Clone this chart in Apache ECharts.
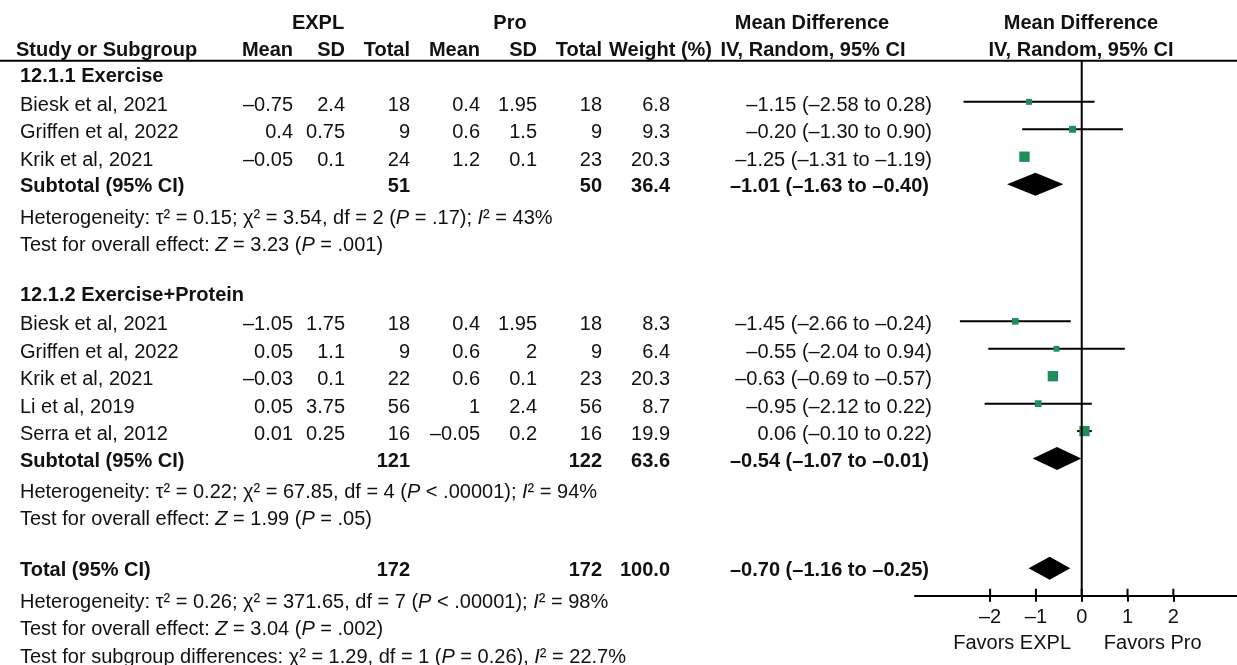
<!DOCTYPE html>
<html><head><meta charset="utf-8">
<script src="https://cdn.jsdelivr.net/npm/echarts@6/dist/echarts.min.js"></script>
<style>html,body{margin:0;padding:0;background:#fff}#c{width:1237px;height:665px}</style>
</head><body><div id="c"></div>
<script>
// ---------- DATA ----------
const groupTitles = ['12.1.1 Exercise', '12.1.2 Exercise+Protein'];

const studies1 = ['Biesk et al, 2021', 'Griffen et al, 2022', 'Krik et al, 2021'];
const expMean1 = [-0.75, 0.4, -0.05];
const expSD1   = [2.4, 0.75, 0.1];
const expN1    = [18, 9, 24];
const proMean1 = [0.4, 0.6, 1.2];
const proSD1   = [1.95, 1.5, 0.1];
const proN1    = [18, 9, 23];
const weight1  = [6.8, 9.3, 20.3];
const md1      = [-1.15, -0.20, -1.25];
const lo1      = [-2.58, -1.30, -1.31];
const hi1      = [0.28, 0.90, -1.19];

const studies2 = ['Biesk et al, 2021', 'Griffen et al, 2022', 'Krik et al, 2021', 'Li et al, 2019', 'Serra et al, 2012'];
const expMean2 = [-1.05, 0.05, -0.03, 0.05, 0.01];
const expSD2   = [1.75, 1.1, 0.1, 3.75, 0.25];
const expN2    = [18, 9, 22, 56, 16];
const proMean2 = [0.4, 0.6, 0.6, 1, -0.05];
const proSD2   = [1.95, 2, 0.1, 2.4, 0.2];
const proN2    = [18, 9, 23, 56, 16];
const weight2  = [8.3, 6.4, 20.3, 8.7, 19.9];
const md2      = [-1.45, -0.55, -0.63, -0.95, 0.06];
const lo2      = [-2.66, -2.04, -0.69, -2.12, -0.10];
const hi2      = [-0.24, 0.94, -0.57, 0.22, 0.22];

const summaryLabels = ['Subtotal (95% CI)', 'Subtotal (95% CI)', 'Total (95% CI)'];
const summaryExpN   = [51, 121, 172];
const summaryProN   = [50, 122, 172];
const summaryWeight = [36.4, 63.6, 100.0];
const summaryMD     = [-1.01, -0.54, -0.70];
const summaryLo     = [-1.63, -1.07, -1.16];
const summaryHi     = [-0.40, -0.01, -0.25];

const hetNotes = [
  'Heterogeneity: τ² = 0.15; χ² = 3.54, df = 2 ({i|P} = .17); {i|I}² = 43%',
  'Heterogeneity: τ² = 0.22; χ² = 67.85, df = 4 ({i|P} < .00001); {i|I}² = 94%',
  'Heterogeneity: τ² = 0.26; χ² = 371.65, df = 7 ({i|P} < .00001); {i|I}² = 98%'
];
const effectNotes = [
  'Test for overall effect: {i|Z} = 3.23 ({i|P} = .001)',
  'Test for overall effect: {i|Z} = 1.99 ({i|P} = .05)',
  'Test for overall effect: {i|Z} = 3.04 ({i|P} = .002)'
];
const subgroupNote = 'Test for subgroup differences: χ² = 1.29, df = 1 ({i|P} = 0.26), {i|I}² = 22.7%';

const tickValues = [-2, -1, 0, 1, 2];
const favorsLabels = ['Favors EXPL', 'Favors Pro'];

// ---------- HELPERS ----------
const FF = '"Liberation Sans", Arial, Helvetica, sans-serif';
const INK = '#111';
const GREEN = '#1e8e5c';
const dash = v => (v < 0 ? '–' + String(-v) : String(v));
const f2 = v => (v < 0 ? '–' : '') + Math.abs(v).toFixed(2);
const ciText = (m, l, h) => f2(m) + ' (' + f2(l) + ' to ' + f2(h) + ')';

// Build row structure
const rows = [];
const groups = [
  {title: groupTitles[0], studies: studies1, em: expMean1, es: expSD1, en: expN1, pm: proMean1, ps: proSD1, pn: proN1, w: weight1, md: md1, lo: lo1, hi: hi1},
  {title: groupTitles[1], studies: studies2, em: expMean2, es: expSD2, en: expN2, pm: proMean2, ps: proSD2, pn: proN2, w: weight2, md: md2, lo: lo2, hi: hi2}
];
groups.forEach((g, gi) => {
  rows.push({type: 'group', text: g.title});
  g.studies.forEach((s, i) => rows.push({type: 'study', name: s, em: g.em[i], es: g.es[i], en: g.en[i], pm: g.pm[i], ps: g.ps[i], pn: g.pn[i], w: g.w[i], md: g.md[i], lo: g.lo[i], hi: g.hi[i]}));
  rows.push({type: 'summary', k: gi});
  rows.push({type: 'note', text: hetNotes[gi]});
  rows.push({type: 'note', text: effectNotes[gi]});
  rows.push({type: 'blank'});
});
rows.push({type: 'summary', k: 2});
rows.push({type: 'note', text: hetNotes[2]});
rows.push({type: 'note', text: effectNotes[2]});
rows.push({type: 'note', text: subgroupNote});

const axisRow = 19.5;
const ciData = [], sqData = [], dmData = [];
rows.forEach((r, i) => {
  const y = i + 0.5;
  if (r.type === 'study') { ciData.push([r.lo, r.hi, y]); sqData.push([r.md, y, r.w]); }
  if (r.type === 'summary') dmData.push([summaryMD[r.k], summaryLo[r.k], summaryHi[r.k], y]);
});
const upTickData = tickValues.map(v => [v, axisRow]);

const chart = echarts.init(document.getElementById('c'));
chart.setOption({
  animation: false,
  grid: {left: 915, right: 0, top: 60.7, height: 535},
  xAxis: {
    type: 'value', min: -3.64, max: 3.39, splitLine: {show: false},
    position: 'bottom',
    axisLine: {show: true, onZero: false, lineStyle: {color: '#000', width: 2}},
    axisTick: {show: true, length: 6, inside: false, customValues: tickValues, lineStyle: {color: '#000', width: 2}},
    axisLabel: {show: true, customValues: tickValues, margin: 12, color: INK, fontSize: 20, fontFamily: FF,
      formatter: v => (v < 0 ? '–' + (-v) : String(v))}
  },
  yAxis: {type: 'value', inverse: true, min: 0, max: axisRow, show: false},
  series: [
    {type: 'line', data: [[0, 0], [0, axisRow]], symbol: 'none', silent: true,
     lineStyle: {color: '#000', width: 2}},
    {type: 'custom', data: upTickData, silent: true, clip: false,
     encode: {x: 0, y: 1},
     renderItem: (p, api) => {
       const a = api.coord([api.value(0), api.value(1)]);
       return {type: 'line', shape: {x1: a[0], y1: a[1], x2: a[0], y2: a[1] - 7}, style: {stroke: '#000', lineWidth: 2}};
     }},
    {type: 'custom', data: ciData, silent: true,
     encode: {x: [0, 1], y: 2},
     renderItem: (p, api) => {
       const a = api.coord([api.value(0), api.value(2)]);
       const b = api.coord([api.value(1), api.value(2)]);
       return {type: 'line', shape: {x1: a[0], y1: a[1], x2: b[0], y2: b[1]}, style: {stroke: '#000', lineWidth: 2}};
     }},
    {type: 'scatter', data: sqData, symbol: 'rect', silent: true,
     symbolSize: v => 2.3 * Math.sqrt(v[2]),
     itemStyle: {color: GREEN, opacity: 1}},
    {type: 'custom', data: dmData, silent: true,
     encode: {x: [0, 1, 2], y: 3},
     renderItem: (p, api) => {
       const c = api.coord([api.value(0), api.value(3)]);
       const l = api.coord([api.value(1), api.value(3)]);
       const r = api.coord([api.value(2), api.value(3)]);
       const h = 11.5;
       return {type: 'polygon', shape: {points: [[l[0], c[1]], [c[0], c[1] - h], [r[0], c[1]], [c[0], c[1] + h]]}, style: {fill: '#000'}};
     }}
  ]
});

// ---------- TABLE TEXT ----------
const COL = {study: 20, expMean: 293, expSD: 345, expN: 410, proMean: 480, proSD: 537, proN: 602, weight: 670, md: 932};
const rowPix = v => chart.convertToPixel({yAxisIndex: 0}, v);
const xPix = v => chart.convertToPixel({xAxisIndex: 0}, v);
const rich = {i: {fontStyle: 'italic', fontSize: 20, fontFamily: FF, fill: INK, fontWeight: 'normal'}};
function T(x, y, text, align, bold, size) {
  return {type: 'text', x: x, y: y, silent: true,
    style: {text: text, fill: INK, fontFamily: FF, fontSize: size || 20, fontWeight: bold ? 'bold' : 'normal',
      align: align || 'left', verticalAlign: 'middle', rich: rich}};
}
const g = [];
// headers
const h1 = rowPix(-1.34), h2 = rowPix(-0.39);
g.push(T(318, h1, 'EXPL', 'center', true));
g.push(T(510, h1, 'Pro', 'center', true));
g.push(T(812, h1, 'Mean Difference', 'center', true));
g.push(T(1081, h1, 'Mean Difference', 'center', true));
g.push(T(16, h2, 'Study or Subgroup', 'left', true));
g.push(T(COL.expMean, h2, 'Mean', 'right', true));
g.push(T(COL.expSD, h2, 'SD', 'right', true));
g.push(T(COL.expN, h2, 'Total', 'right', true));
g.push(T(COL.proMean, h2, 'Mean', 'right', true));
g.push(T(COL.proSD, h2, 'SD', 'right', true));
g.push(T(COL.proN, h2, 'Total', 'right', true));
g.push(T(712, h2, 'Weight (%)', 'right', true));
g.push(T(813, h2, 'IV, Random, 95% CI', 'center', true));
g.push(T(1081, h2, 'IV, Random, 95% CI', 'center', true));
const lineY = rowPix(0);
g.push({type: 'line', silent: true, shape: {x1: 0, y1: lineY, x2: 1237, y2: lineY}, style: {stroke: '#000', lineWidth: 2}});

rows.forEach((r, i) => {
  const c = rowPix(i + 0.5);
  if (r.type === 'group') g.push(T(COL.study, c + 2, r.text, 'left', true));
  if (r.type === 'study') {
    const y = c + 3.5;
    g.push(T(COL.study, y, r.name, 'left'));
    g.push(T(COL.expMean, y, dash(r.em), 'right'));
    g.push(T(COL.expSD, y, dash(r.es), 'right'));
    g.push(T(COL.expN, y, String(r.en), 'right'));
    g.push(T(COL.proMean, y, dash(r.pm), 'right'));
    g.push(T(COL.proSD, y, dash(r.ps), 'right'));
    g.push(T(COL.proN, y, String(r.pn), 'right'));
    g.push(T(COL.weight, y, r.w.toFixed(1), 'right'));
    g.push(T(COL.md, y, ciText(r.md, r.lo, r.hi), 'right'));
  }
  if (r.type === 'summary') {
    const y = c + 2.5, k = r.k;
    g.push(T(COL.study, y, summaryLabels[k], 'left', true));
    g.push(T(COL.expN, y, String(summaryExpN[k]), 'right', true));
    g.push(T(COL.proN, y, String(summaryProN[k]), 'right', true));
    g.push(T(COL.weight, y, summaryWeight[k].toFixed(1), 'right', true));
    g.push(T(COL.md - 3, y, ciText(summaryMD[k], summaryLo[k], summaryHi[k]), 'right', true));
  }
  if (r.type === 'note') g.push(T(COL.study, c + 6.5, r.text, 'left'));
});
// favors labels
const favY = rowPix(axisRow) + 48;
g.push(T(xPix(-1.52), favY, favorsLabels[0], 'center'));
g.push(T(xPix(1.55), favY, favorsLabels[1], 'center'));
chart.setOption({graphic: g});
</script>
</body></html>
